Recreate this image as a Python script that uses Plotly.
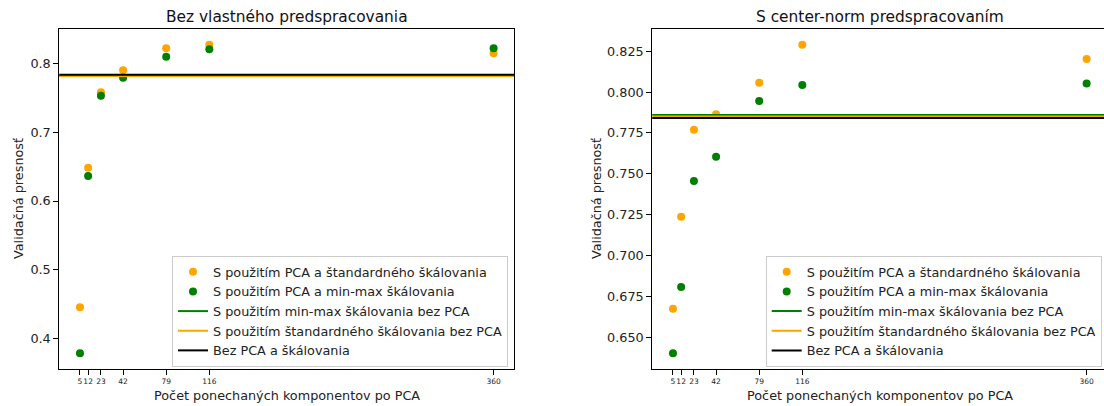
import plotly.graph_objects as go

# ---- data ----
n_components = [5, 12, 23, 42, 79, 116, 360]

left_std_pca = [0.4456, 0.6483, 0.7579, 0.790, 0.822, 0.827, 0.8145]
left_mm_pca = [0.3788, 0.6363, 0.753, 0.779, 0.8097, 0.8203, 0.8218]
left_mm_nopca = 0.7816
left_std_nopca = 0.7816
left_none = 0.7835

right_std_pca = [0.6674, 0.7237, 0.7769, 0.7865, 0.8057, 0.829, 0.8203]
right_mm_pca = [0.6402, 0.6807, 0.7456, 0.7605, 0.7945, 0.8043, 0.8053]
right_mm_nopca = 0.7860
right_std_nopca = 0.7851
right_none = 0.7841

titles = ["Bez vlastného predspracovania", "S center-norm predspracovaním"]
xlabel = "Počet ponechaných komponentov po PCA"
ylabel = "Validačná presnosť"
names = [
    "S použitím PCA a štandardného škálovania",
    "S použitím PCA a min-max škálovania",
    "S použitím min-max škálovania bez PCA",
    "S použitím štandardného škálovania bez PCA",
    "Bez PCA a škálovania",
]

W, H = 1104, 406
FONT = "DejaVu Sans"
ORANGE = "#FFA500"
GREEN = "#008000"

# pixel geometry of the axes
ax_w = 455.0
left_x0 = 59.3
right_x0 = 652.3
y_top, y_bot = 29.3, 368.7


def margins(vals):
    lo, hi = min(vals), max(vals)
    m = 0.05 * (hi - lo)
    return lo - m, hi + m


xlo, xhi = margins(n_components)
# right panel is cut by the figure edge
right_frac = (W - right_x0) / ax_w
xhi_right = xlo + right_frac * (xhi - xlo)

fig = go.Figure()

panels = [
    dict(std=left_std_pca, mm=left_mm_pca, lines=[left_mm_nopca, left_std_nopca, left_none],
         xa="x", ya="y", legend="legend"),
    dict(std=right_std_pca, mm=right_mm_pca, lines=[right_mm_nopca, right_std_nopca, right_none],
         xa="x2", ya="y2", legend="legend2"),
]

for p in panels:
    fig.add_trace(go.Scatter(x=n_components, y=p["std"], mode="markers", name=names[0],
                             marker=dict(color=ORANGE, size=8), xaxis=p["xa"], yaxis=p["ya"],
                             legend=p["legend"]))
    fig.add_trace(go.Scatter(x=n_components, y=p["mm"], mode="markers", name=names[1],
                             marker=dict(color=GREEN, size=8), xaxis=p["xa"], yaxis=p["ya"],
                             legend=p["legend"]))
    for val, col, nm in zip(p["lines"], [GREEN, ORANGE, "black"], names[2:]):
        fig.add_trace(go.Scatter(x=[xlo - 50, xhi + 50], y=[val, val], mode="lines", name=nm,
                                 line=dict(color=col, width=2), xaxis=p["xa"], yaxis=p["ya"],
                                 legend=p["legend"]))

ly = margins(left_std_pca + left_mm_pca + [left_mm_nopca, left_std_nopca, left_none])
ry = margins(right_std_pca + right_mm_pca + [right_mm_nopca, right_std_nopca, right_none])

ydom = [1 - y_bot / H, 1 - y_top / H]
common_x = dict(tickvals=n_components, ticktext=[str(v) for v in n_components], tickangle=0,
                tickfont=dict(size=7.5, family=FONT, color="#222"), ticks="outside", ticklen=5,
                tickcolor="black", showline=True, linecolor="black", linewidth=1,
                showgrid=False, zeroline=False, mirror=True)
common_y = dict(tickfont=dict(size=12.8, family=FONT, color="#222"), ticks="outside", ticklen=5,
                tickcolor="black", showline=True, linecolor="black", linewidth=1,
                showgrid=False, zeroline=False)

leg_bottom = 367
fig.update_layout(
    width=W, height=H,
    margin=dict(l=0, r=0, t=0, b=0),
    plot_bgcolor="white", paper_bgcolor="white",
    font=dict(family=FONT, size=12.8, color="#222"),
    xaxis=dict(domain=[left_x0 / W, (left_x0 + ax_w) / W], range=[xlo, xhi], anchor="y", **common_x),
    yaxis=dict(domain=ydom, range=list(ly), anchor="x", tick0=0.4, dtick=0.1, tickformat=".1f",
               mirror=True, **common_y),
    xaxis2=dict(domain=[right_x0 / W, 1.0], range=[xlo, xhi_right], anchor="y2", **common_x),
    yaxis2=dict(domain=ydom, range=list(ry), anchor="x2", tick0=0.65, dtick=0.025, tickformat=".3f",
                mirror=False, **common_y),
    legend=dict(x=508 / W, y=1 - leg_bottom / H, xanchor="right", yanchor="bottom",
                bgcolor="rgba(255,255,255,0.8)", bordercolor="#cccccc", borderwidth=1,
                font=dict(size=12.8, family=FONT, color="#222"), tracegroupgap=0),
    legend2=dict(x=1101.7 / W, y=1 - leg_bottom / H, xanchor="right", yanchor="bottom",
                 bgcolor="rgba(255,255,255,0.8)", bordercolor="#cccccc", borderwidth=1,
                 font=dict(size=12.8, family=FONT, color="#222"), tracegroupgap=0),
    showlegend=True,
)

left_cx = left_x0 + ax_w / 2
right_cx = right_x0 + ax_w / 2
ann = []
for cx, t in zip([left_cx, right_cx], titles):
    ann.append(dict(text=t, x=cx / W, y=1 - 17 / H, xref="paper", yref="paper",
                    xanchor="center", yanchor="middle", showarrow=False,
                    font=dict(size=15.4, family=FONT, color="#111")))
    ann.append(dict(text=xlabel, x=cx / W, y=1 - 395 / H, xref="paper", yref="paper",
                    xanchor="center", yanchor="middle", showarrow=False,
                    font=dict(size=12.8, family=FONT, color="#222")))
for lx in [18, 596]:
    ann.append(dict(text=ylabel, x=lx / W, y=1 - (y_top + y_bot) / 2 / H, xref="paper", yref="paper",
                    xanchor="center", yanchor="middle", showarrow=False, textangle=-90,
                    font=dict(size=12.8, family=FONT, color="#222")))
fig.update_layout(annotations=ann)

fig.write_html(
    "out.html",
    config={"displayModeBar": False},
    post_script="document.body.style.margin='0';document.body.style.overflow='hidden';",
)
